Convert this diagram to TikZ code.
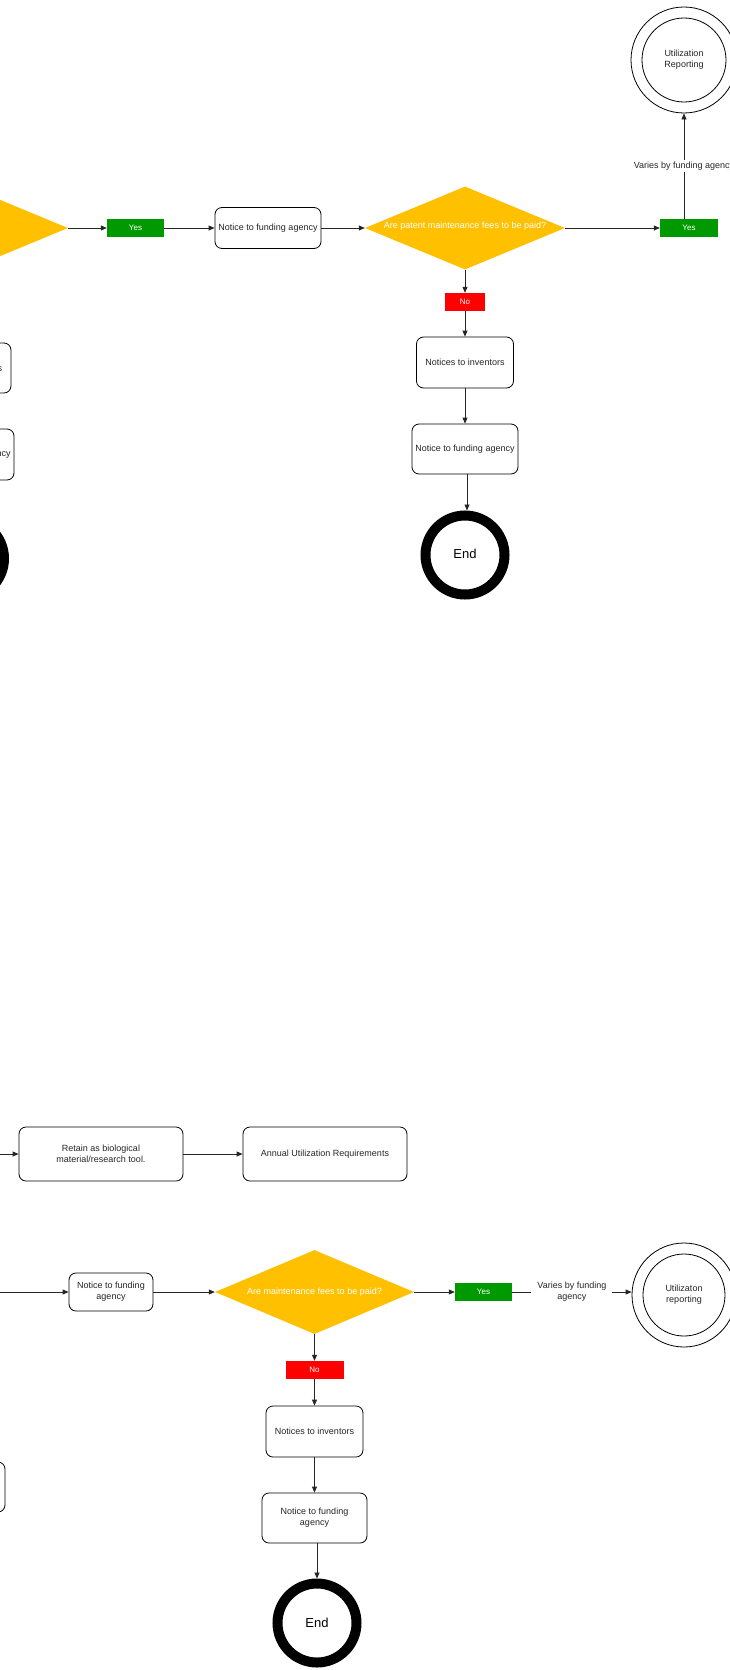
\documentclass[tikz,border=0pt]{standalone}
\usepackage{fontspec}
\setmainfont{Liberation Sans}
\usetikzlibrary{shapes.geometric,arrows.meta}
\definecolor{dyellow}{HTML}{FFC000}
\definecolor{dgreen}{HTML}{009900}
\definecolor{dred}{HTML}{FF0000}
\newcommand\fsnine{\fontsize{9}{11}\selectfont}
\newcommand\fseight{\fontsize{8}{10}\selectfont}
\newcommand\fsend{\fontsize{13}{15}\selectfont}
\begin{document}
\begin{tikzpicture}[x=1pt,y=-1pt,
  box/.style={draw=black, line width=0.8pt, rounded corners=7pt, fill=white, align=center, inner sep=2pt, font=\fsnine, text=black!85},
  diam/.style={diamond, fill=dyellow, draw=none, minimum width=200pt, minimum height=83pt, inner sep=0pt},
  dtext/.style={font=\fsnine, text=white, inner sep=0pt},
  tag/.style={inner sep=0pt, font=\fseight, text=white, minimum height=18pt},
  yestag/.style={tag, fill=dgreen, minimum width=57pt},
  notag/.style={tag, fill=dred},
  conn/.style={draw=black!85, line width=0.8pt, -{Triangle[length=6pt,width=5pt]}},
  endring/.style={circle, draw=black, line width=10pt, minimum size=79pt, inner sep=0pt, font=\fsend},
  outerc/.style={circle, draw=black, line width=0.8pt, inner sep=0pt},
  lbl/.style={fill=white, font=\fsnine, text=black!85, align=center}
]
\clip (0,0) rectangle (730,1670);
\fill[white] (0,0) rectangle (730,1670);

% ---------- top section ----------
\node[diam] (d0) at (-32,228) {};
\node[yestag] (y1) at (135.5,228) {Yes};
\node[box, minimum width=106pt, minimum height=41pt] (n1) at (268,228) {Notice to funding agency};
\node[diam] (d1) at (465,228) {};
\node[dtext] (d1t) at (465,226.5) {Are patent maintenance fees to be paid?};
\node[yestag, minimum width=58pt] (y2) at (689,228) {Yes};
\node[outerc, minimum size=106pt] (u1) at (684,60) {};
\node[outerc, minimum size=84pt, align=center, font=\fsnine, text=black!85] (u1i) at (684,60) {Utilization\\Reporting};
\node[notag, minimum width=40pt] (no1) at (465,302) {No};
\node[box, minimum width=97pt, minimum height=51pt] (ni1) at (465,362.5) {Notices to inventors};
\node[box, minimum width=106pt, minimum height=50pt] (nf1) at (465,449) {Notice to funding agency};
\node[endring] (e1) at (465,555) {\raisebox{3pt}{End}};

% left (cut-off) column
\node[box, minimum width=97pt, minimum height=50pt] (nil) at (-37.5,368) {Notices to inventors};
\node[box, minimum width=106pt, minimum height=51pt] (nfl) at (-39,454.5) {Notice to funding agency};
\node[endring] (el) at (-35.5,558.5) {};

\draw[conn] (d0.east) -- (y1.west);
\draw[conn] (y1.east) -- (n1.west);
\draw[conn] (n1.east) -- (d1.west);
\draw[conn] (d1.east) -- (y2.west);
\draw[conn] (u1.south |- y2.north) -- node[lbl, inner sep=1.5pt] (l1) {Varies by funding agency} (u1.south);
\draw[conn] (d1.south) -- (no1.north);
\draw[conn] (no1.south) -- (ni1.north);
\draw[conn] (ni1.south) -- (nf1.north);
\draw[conn] (nf1.south -| 467,0) -- (e1.north -| 467,0);
\draw[conn] (nil.south) -- (nfl.north);
\draw[conn] (nfl.south) -- (el.north);

% ---------- bottom section ----------
\coordinate (inr) at (-30,1154);
\coordinate (inn) at (-30,1292);
\node[box, minimum width=164pt, minimum height=54pt] (rt) at (101,1154) {Retain as biological\\material/research tool.};
\node[box, minimum width=164pt, minimum height=54pt] (an) at (325,1154) {Annual Utilization Requirements};
\node[box, minimum width=84pt, minimum height=38pt] (n2) at (111,1292) {Notice to funding\\agency};
\node[diam, minimum width=199pt, minimum height=84pt] (d2) at (314.5,1292) {};
\node[dtext] (d2t) at (314.5,1292) {Are maintenance fees to be paid?};
\node[yestag] (y3) at (483.5,1292) {Yes};
\node[outerc, minimum size=104pt] (u2) at (684,1295) {};
\node[outerc, minimum size=82pt, align=center, font=\fsnine, text=black!85] (u2i) at (684,1295) {Utilizaton\\reporting};
\node[notag, minimum width=58pt] (no2) at (314.5,1370) {No};
\node[box, minimum width=97pt, minimum height=51pt] (ni2) at (314.5,1431.5) {Notices to inventors};
\node[box, minimum width=105pt, minimum height=50pt] (nf2) at (314.5,1518) {Notice to funding\\agency};
\node[endring] (e2) at (317,1623) {End};
\node[box, minimum width=106pt, minimum height=50pt] (pb) at (-48,1487) {};

\draw[conn] (inr) -- (rt.west);
\draw[conn] (rt.east) -- (an.west);
\draw[conn] (inn) -- (n2.west);
\draw[conn] (n2.east) -- (d2.west);
\draw[conn] (d2.east) -- (y3.west);
\draw[conn] (y3.east) -- node[lbl, inner sep=6pt] (l2) {Varies by funding\\agency} (y3.east -| u2.west);
\draw[conn] (d2.south) -- (no2.north);
\draw[conn] (no2.south) -- (ni2.north);
\draw[conn] (ni2.south) -- (nf2.north);
\draw[conn] (nf2.south -| 317,0) -- (e2.north);
\end{tikzpicture}
\end{document}
